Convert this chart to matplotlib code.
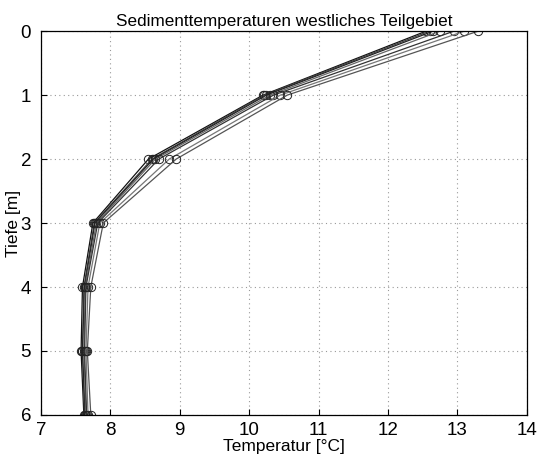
import matplotlib
matplotlib.use("Agg")
import matplotlib.pyplot as plt

plt.rcParams['font.family'] = ['Liberation Sans', 'DejaVu Sans']

depths = [0, 1, 2, 3, 4, 5, 6]
profile_1 = [12.55, 10.20, 8.55, 7.75, 7.60, 7.58, 7.62]
profile_2 = [12.60, 10.22, 8.60, 7.77, 7.62, 7.60, 7.63]
profile_3 = [12.65, 10.25, 8.62, 7.78, 7.63, 7.60, 7.64]
profile_4 = [12.75, 10.30, 8.65, 7.80, 7.64, 7.62, 7.65]
profile_5 = [12.95, 10.35, 8.70, 7.82, 7.65, 7.63, 7.66]
profile_6 = [13.10, 10.45, 8.85, 7.85, 7.68, 7.65, 7.68]
profile_7 = [13.30, 10.55, 8.95, 7.90, 7.72, 7.67, 7.72]
profiles = [profile_1, profile_2, profile_3, profile_4, profile_5, profile_6, profile_7]
line_colors = ['#111111', '#444444', '#222222', '#666666', '#333333', '#777777', '#555555']

title = 'Sedimenttemperaturen westliches Teilgebiet'
xlabel = 'Temperatur [°C]'
ylabel = 'Tiefe [m]'
xticks = [7, 8, 9, 10, 11, 12, 13, 14]
yticks = [0, 1, 2, 3, 4, 5, 6]

fig = plt.figure(figsize=(5.37, 4.58), dpi=100)
ax = fig.add_axes([0.076, 0.094, 0.905, 0.838])

for prof, c in zip(profiles, line_colors):
    ax.plot(prof, depths, color=c, linewidth=0.9, marker='o', markersize=6,
            markerfacecolor='none', markeredgecolor='#222222', markeredgewidth=0.7)

ax.set_xlim(7, 14)
ax.set_ylim(6, 0)
ax.set_xticks(xticks)
ax.set_yticks(yticks)
ax.tick_params(direction='in', labelsize=13.5, length=4)
ax.tick_params(axis='x', pad=5)
ax.tick_params(axis='y', pad=7)
ax.grid(True, linestyle=(0, (1, 3)), color='#999999', linewidth=0.8)
for s in ax.spines.values():
    s.set_linewidth(0.9)
ax.set_title(title, fontsize=12.3, pad=4)
ax.set_xlabel(xlabel, fontsize=12.5, labelpad=0)
ax.set_ylabel(ylabel, fontsize=12.5, labelpad=0)

fig.savefig('out.png', dpi=100)
